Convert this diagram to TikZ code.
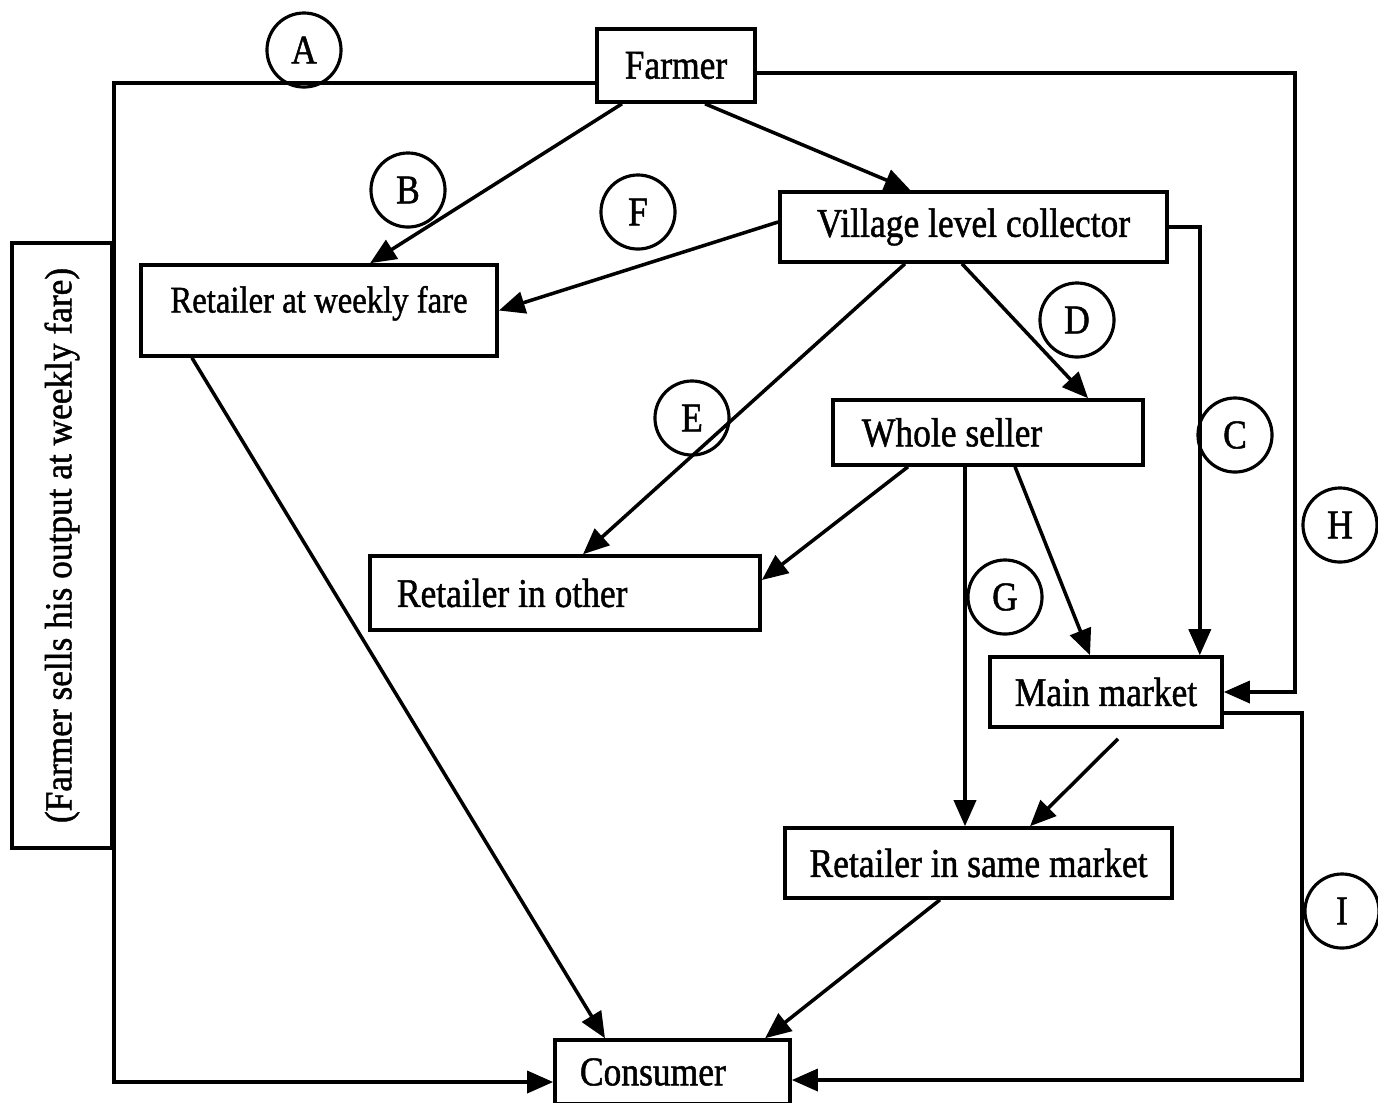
\documentclass[tikz,border=0pt]{standalone}
\usepackage{fontspec}
\setmainfont{Liberation Serif}[FakeStretch=0.87,FakeBold=1.2]
\newfontfamily\sidefont{Liberation Serif}[FakeStretch=0.93,FakeBold=1.2]
\usetikzlibrary{calc,arrows.meta,positioning}
\newcommand\chainfont{\fontsize{11.6pt}{14pt}\selectfont}

\begin{document}
\begin{tikzpicture}[x=0.01cm,y=-0.01cm,>={Triangle[length=2.6mm,width=2.2mm]},line width=1pt]
      % Styles
      \tikzset{stage/.style={draw,line width=1pt,inner sep=0pt,font=\chainfont},
               tag/.style={circle,draw,line width=0.9pt,minimum size=0.74cm,inner sep=0pt,font=\chainfont},
               flow/.style={->,line width=1pt}}

      % Frame of the page
      \useasboundingbox (0,0) rectangle (1378,1102);

      % Stages of the chain
      \node[stage,minimum width=1.58cm,minimum height=0.73cm] (farmer) at (676,65.5) {Farmer};
      \node[stage,minimum width=3.56cm,minimum height=0.91cm,text height=0.3cm,text depth=0.26cm,font=\fontsize{10.7pt}{13pt}\selectfont] (weekly) at (319,310.5) {Retailer at weekly fare};
      \node[stage,minimum width=3.87cm,minimum height=0.70cm] (village) at (973.5,227) {Village level collector};
      \node[stage,inner xsep=0.29cm,minimum height=0.65cm] (whole) at (988,432.5) {\makebox[2.52cm][l]{Whole seller}};
      \node[stage,inner xsep=0.27cm,minimum height=0.74cm] (other) at (565,593) {\makebox[3.36cm][l]{Retailer in other}};
      \node[stage,minimum width=2.32cm,minimum height=0.70cm] (main) at (1106,692) {Main market};
      \node[stage,minimum width=3.87cm,minimum height=0.70cm] (same) at (978.5,863) {Retailer in same market};
      \node[stage,inner xsep=0.25cm,minimum height=0.64cm] (consumer) at (672.5,1072) {\makebox[1.85cm][l]{Consumer}};

      % Side note on the direct channel
      \node[stage,rotate=90,minimum width=6.05cm,minimum height=1.0cm,font=\sidefont\fontsize{10.8pt}{13pt}\selectfont] (side) at (62,545.5) {(Farmer sells his output at weekly fare)};

      % Channel letters
      \node[tag] (tagA) at (304,50) {A};
      \node[tag] (tagB) at (408,190) {B};
      \node[tag] (tagF) at (638,212) {F};
      \node[tag] (tagD) at (1077,320) {D};
      \node[tag] (tagE) at (692,418) {E};
      \node[tag] (tagC) at (1235,435) {C};
      \node[tag] (tagH) at (1340,525) {H};
      \node[tag] (tagG) at (1005,597) {G};
      \node[tag] (tagI) at (1342,911) {I};

      % Helper points for the outer loops
      \coordinate (hLine) at (1295,400);
      \coordinate (iLine) at (1302,900);
      \coordinate (gDrop) at ([xshift=-1.35mm]same.north);

      % Outer channels A, H, I
      \draw[flow] ([yshift=-1.75mm]farmer.west) -| (side.south) |- ([yshift=-1mm]consumer.west);
      \draw[flow] ([yshift=-0.75mm]farmer.east) -| (hLine) |- (main.east);
      \draw[flow] ([yshift=-2.1mm]main.east) -| (iLine) |- ([yshift=-0.8mm]consumer.east);

      % From the farmer
      \draw[flow] ([xshift=-5.4mm]farmer.south) -- ([xshift=5.1mm]weekly.north);
      \draw[flow] ([xshift=2.9mm]farmer.south) -- ([xshift=-6.3mm]village.north);

      % From the village level collector
      \draw[flow] ([yshift=0.5mm]village.west) -- (weekly.east);
      \draw[flow] ([xshift=-6.85mm]village.south) -- ([xshift=1.8mm]other.north);
      \draw[flow] ([xshift=-1.15mm]village.south) -- ([xshift=10mm]whole.north);
      \draw[flow] (village.east) -| ([xshift=-2.4mm]main.north east);

      % From the whole seller
      \draw[flow] ([xshift=-8mm]whole.south) -- ([yshift=1.3mm]other.east);
      \draw[flow] (whole.south -| gDrop) -- (gDrop);
      \draw[flow] ([xshift=2.7mm]whole.south) -- ([xshift=-1.6mm]main.north);

      % Down to the consumer
      \draw[flow] ([xshift=1.2mm,yshift=-1mm]main.south) -- ([xshift=5.15mm]same.north);
      \draw[flow] ([xshift=-12.7mm]weekly.south) -- ([xshift=-6.75mm]consumer.north);
      \draw[flow] ([xshift=-3.85mm]same.south) -- ([xshift=9.25mm]consumer.north);
    \end{tikzpicture}
\end{document}
